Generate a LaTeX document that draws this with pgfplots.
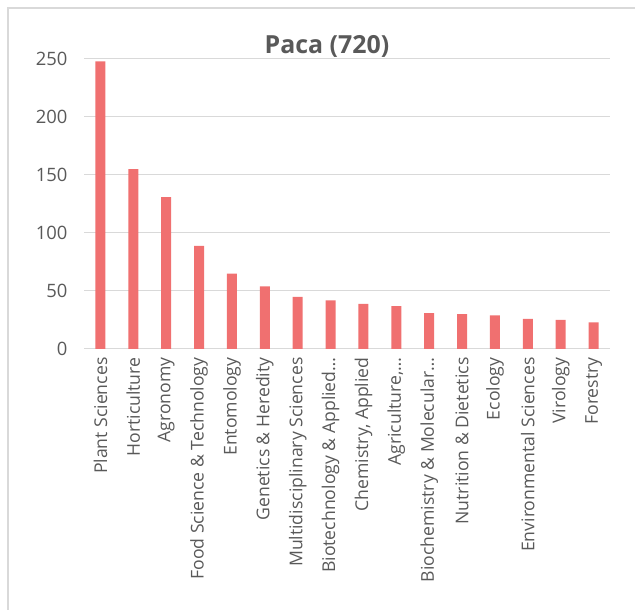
\documentclass[border=0pt]{standalone}
\usepackage{pgfplots}
\pgfplotsset{compat=1.18}
\usepackage{fontspec}
\setmainfont{Open Sans}
\definecolor{barred}{RGB}{240,112,112}
\definecolor{txt}{RGB}{89,89,89}
\definecolor{gridc}{RGB}{217,217,217}
\begin{document}
\begin{tikzpicture}[x=1bp,y=1bp]
\useasboundingbox (0,0) rectangle (635,610);
\clip (0,0) rectangle (635,610);
\draw[gridc, line width=1.5bp] (8,-10) -- (8,602) -- (645,602);
\node[txt, font=\bfseries\fontsize{25}{28}\selectfont, anchor=base] at (327,556) {Paca (720)};
\begin{axis}[
  at={(84bp,261bp)}, anchor=south west,
  scale only axis, width=526bp, height=290bp,
  xmin=-0.5, xmax=15.5, ymin=0, ymax=250,
  ytick={0,50,...,250},
  ymajorgrids, grid style={gridc, line width=1bp},
  axis line style={draw=none},
  major tick length=0pt,
  /pgf/number format/assume math mode=true,
  yticklabel style={txt, font=\fontsize{18.5}{20}\selectfont, xshift=-13bp},
  xtick=data,
  xticklabels={Plant Sciences, Horticulture, Agronomy, Food Science \& Technology, Entomology, Genetics \& Heredity, Multidisciplinary Sciences, Biotechnology \& Applied…, {Chemistry, Applied}, {Agriculture,…}, Biochemistry \& Molecular…, Nutrition \& Dietetics, Ecology, Environmental Sciences, Virology, Forestry},
  xticklabel style={txt, font=\fontsize{17.7}{20}\selectfont, rotate=90, anchor=east, xshift=-5bp},
  ybar, bar width=10bp,
]
\addplot[fill=barred, draw=none] coordinates {
(0,248) (1,155) (2,131) (3,89) (4,65) (5,54) (6,45) (7,42)
(8,39) (9,37) (10,31) (11,30) (12,29) (13,26) (14,25) (15,23)};
\end{axis}
\end{tikzpicture}
\end{document}
